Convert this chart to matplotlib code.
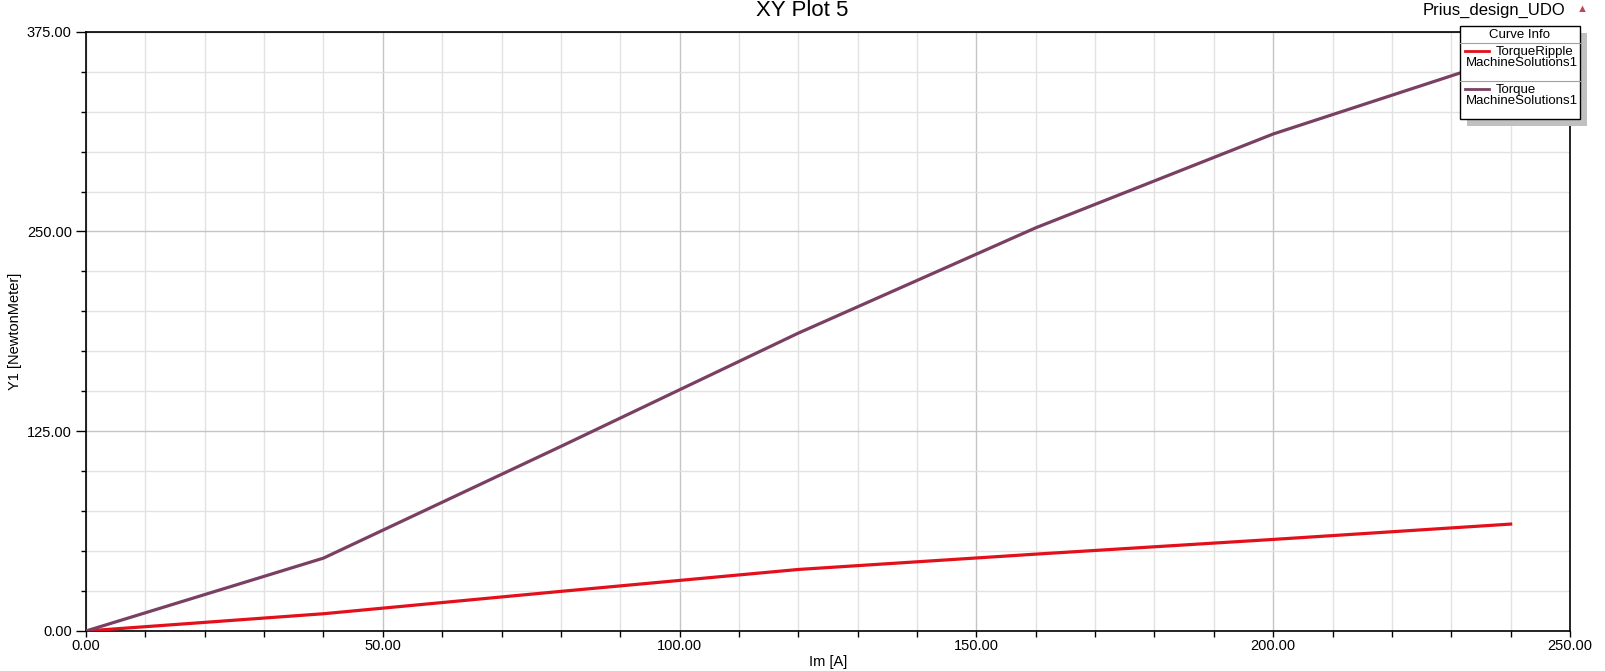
#!/usr/bin/env python

import numpy as np
import matplotlib
matplotlib.use('Agg')
import matplotlib.pyplot as plt
from matplotlib.ticker import MultipleLocator, FormatStrFormatter
from matplotlib.patches import Rectangle
from matplotlib.lines import Line2D

plt.rcParams['font.family'] = ['Liberation Sans', 'DejaVu Sans']

# current sweep [A]
current = [0, 40, 80, 120, 160, 200, 240]
# values [NewtonMeter]
torque = [0.0, 45.6, 115.5, 186.4, 252.3, 311.0, 359.5]
torque_ripple = [0.0, 10.8, 24.8, 38.5, 48.1, 57.3, 66.9]

series_names = ['TorqueRipple', 'Torque']
solution_name = 'MachineSolutions1'
colors = ['#e3101c', '#7a4063']

fig = plt.figure(figsize=(16.06, 6.71), dpi=100)
ax = fig.add_axes([86 / 1606, 1 - 631 / 671, (1570 - 86) / 1606, (631 - 31.7) / 671])

ax.plot(current, torque_ripple, color=colors[0], lw=2.3, zorder=3)
ax.plot(current, torque, color=colors[1], lw=2.3, zorder=3)

ax.set_xlim(0, 250)
ax.set_ylim(0, 375)
ax.xaxis.set_major_locator(MultipleLocator(50))
ax.xaxis.set_minor_locator(MultipleLocator(10))
ax.yaxis.set_major_locator(MultipleLocator(125))
ax.yaxis.set_minor_locator(MultipleLocator(25))
ax.xaxis.set_major_formatter(FormatStrFormatter('%.2f'))
ax.yaxis.set_major_formatter(FormatStrFormatter('%.2f'))

ax.grid(which='major', color='#c4c4c4', lw=1.0)
ax.grid(which='minor', color='#e2e2e2', lw=1.0)
ax.set_axisbelow(True)

ax.tick_params(which='major', axis='y', length=7.2, width=1, labelsize=10.5, pad=3)
ax.tick_params(which='minor', axis='y', length=3.6, width=1)
ax.tick_params(which='both', axis='x', length=4, width=1, labelsize=10.5, pad=2)
for s in ax.spines.values():
    s.set_color('black')
    s.set_linewidth(1.2)

ax.set_xlabel('Im [A]', fontsize=10.5, labelpad=1)
ax.set_ylabel('Y1 [NewtonMeter]', fontsize=10.5)
ax.yaxis.set_label_coords(-64 / 1484, 0.5)

# titles
fig.text(802 / 1606, 1 - 11 / 671, 'XY Plot 5', fontsize=16, ha='center', va='center')
fig.text(1565 / 1606, 1 - 10 / 671, 'Prius_design_UDO', fontsize=12, ha='right', va='center')
fig.text(1582 / 1606, 1 - 9 / 671, '\u25b2', fontsize=8, color='#b84a5a', ha='center', va='center')


# legend box drawn in figure pixels
def fx(px):
    return px / 1606


def fy(py):
    return 1 - py / 671


x0, x1, y0, y1 = 1460, 1580, 26, 119
fig.patches.append(Rectangle((fx(x0 + 7), fy(y1 + 7)), fx(x1 - x0), (y1 - y0) / 671,
                             transform=fig.transFigure, facecolor='#c0c0c0',
                             edgecolor='none', zorder=5))
fig.patches.append(Rectangle((fx(x0), fy(y1)), fx(x1 - x0), (y1 - y0) / 671,
                             transform=fig.transFigure, facecolor='white',
                             edgecolor='black', lw=1.0, zorder=6))
fig.text(fx((x0 + x1) / 2), fy(35), 'Curve Info', fontsize=9.5, ha='center', va='center', zorder=7)
for yy in (42.5, 81):
    fig.lines.append(Line2D([fx(x0), fx(x1)], [fy(yy), fy(yy)], transform=fig.transFigure,
                            color='#a0a0a0', lw=0.8, zorder=7))
for i, (name, c) in enumerate(zip(series_names, colors)):
    ytop = 52 + 38 * i
    fig.lines.append(Line2D([fx(1465), fx(1489)], [fy(ytop - 1), fy(ytop - 1)],
                            transform=fig.transFigure, color=c, lw=2, zorder=7))
    fig.text(fx(1496), fy(ytop), name, fontsize=9.5, ha='left',
             va='center', zorder=7)
    fig.text(fx(1466), fy(ytop + 11), solution_name, fontsize=9.5, ha='left',
             va='center', zorder=7)

fig.savefig('out.png', dpi=100)
